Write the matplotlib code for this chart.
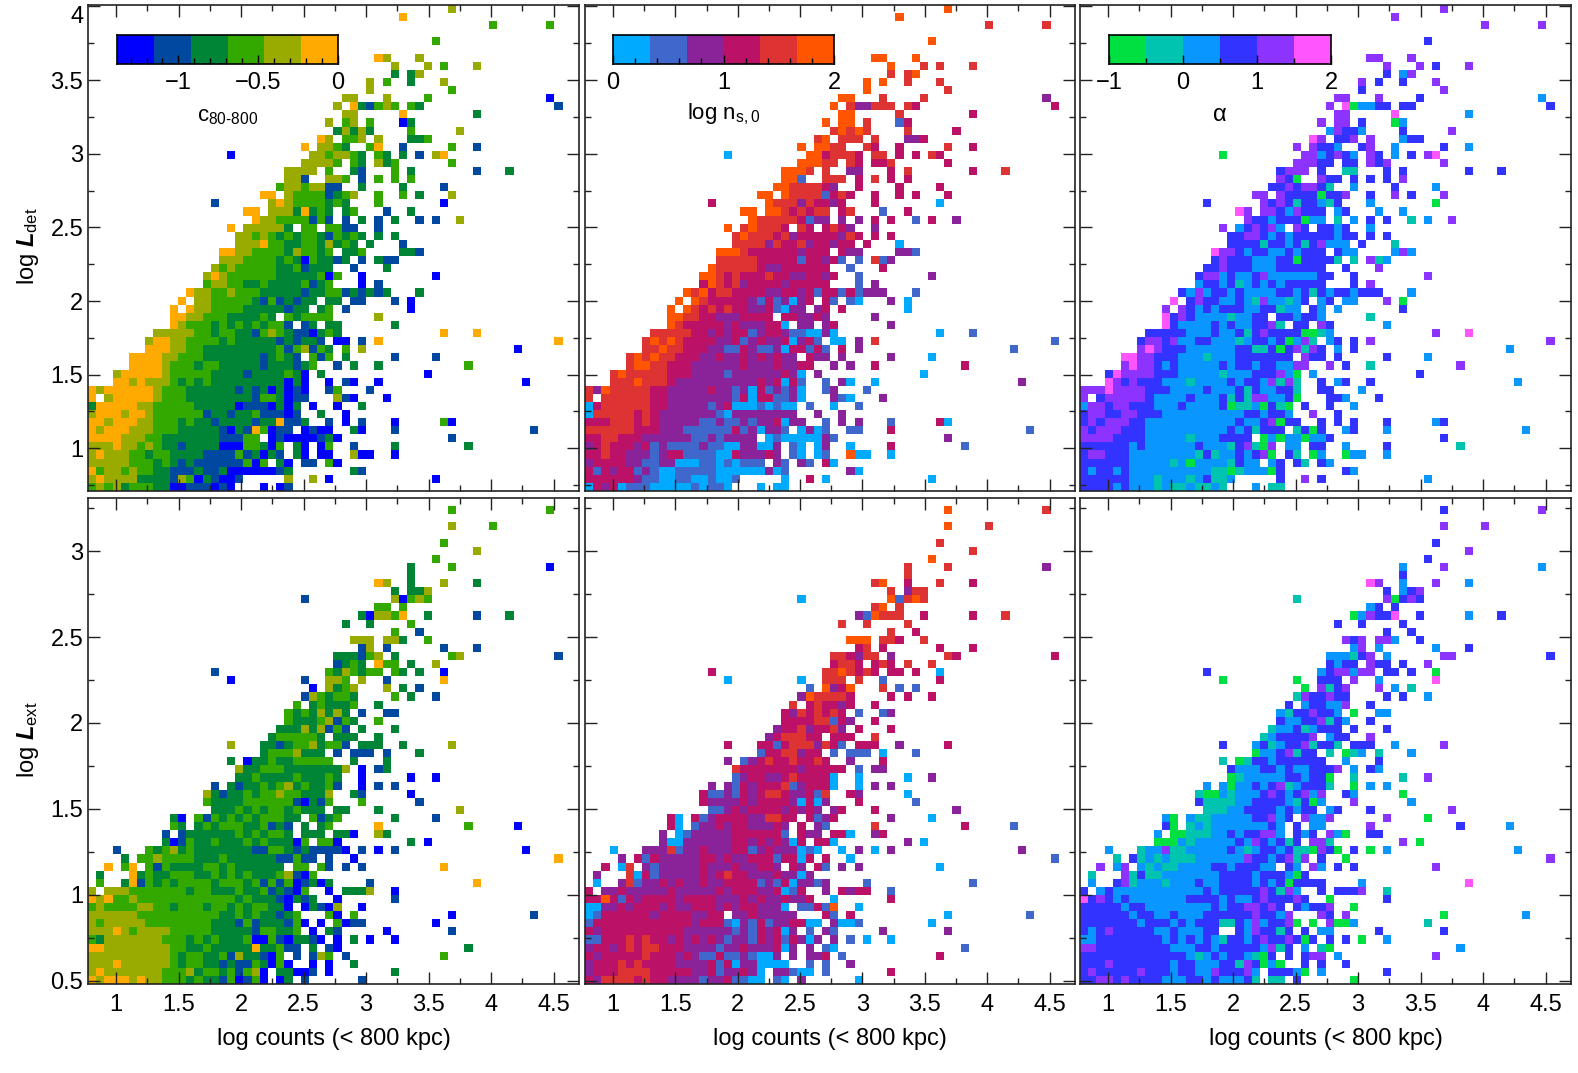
# Six binned maps of the detection likelihoods, each cell is a level 0-5 of the colour bar
import numpy as np
import matplotlib
matplotlib.use('Agg')
import matplotlib.pyplot as plt
from matplotlib.colors import ListedColormap

plt.rcParams['font.family'] = ['Liberation Sans', 'DejaVu Sans']
plt.rcParams['mathtext.fontset'] = 'custom'
plt.rcParams['mathtext.rm'] = 'Liberation Sans'
plt.rcParams['mathtext.it'] = 'Liberation Sans:italic'
plt.rcParams['mathtext.bf'] = 'Liberation Sans:bold'
plt.rcParams['mathtext.bfit'] = 'Liberation Sans:italic:bold'

# Cells per row, top row first, written as "first column:levels"
c_det = [
"44:4", "38:5", "49:3 56:3", "", "42:3", "", "35:54 40:4", "37:4 41:4 43:3 47:4", "37:2 39:24",
"34:4 36:3 39:2 43:4", "34:4 44:3", "31:44 36:4 41:3 56:0", "30:4 32:521343 39:32 57:1", "31:44 38:5 47:2",
"29:4 31:34 34:3 38:02", "30:24242 39:3 45:4", "28:54 31:334 35:4 39:223", "26:5 28:4432 34:35 38:1 44:3 47:1",
"17:0 27:4434432 35:32 38:2 40:1 42:45", "26:4444 30:3 32:32 35:423 44:3", "24:4444 29:3 32:21 37:3 39:2 47:1 51:2",
"24:441 29:443 33:1 35:3 37:3 39:3", "23:34434411 33:2 38:2 43:1", "21:55 24:433331234 35:3 38:3 40:2 44:4",
"15:1 22:4543333232 35:3 43:0", "19:55 22:44425232 31:23 36:1 39:2", "20:5443333131 31:1 33:2 35:1 37:2 40:1 42:1 45:4",
"17:5 19:44444 24:2 26:33 29:33 31:11 35:1", "18:4434323233213232 35:2 37:2", "18:444 21:5 22:33 24:22 26:33 28:2 29:4 30:2 31:32 34:2 38:1",
"16:55 18:44 20:3333 24:2 25:4 26:33 28:2 29:3 31:223 38:221",
"16:444 19:3333 23:2 24:3 25:2 26:0 27:3 28:2 29:2 30:1 31:2 33:1 35:2 36:11",
"15:4 16:3 17:4 18:33333 23:22 25:3 26:1 27:222 32:1 36:2",
"14:454 17:333333 23:222 26:22 28:3 29:0 30:3 33:0 42:0",
"14:3 15:44 17:33 19:22 21:3 22:2222 26:3 27:1 28:2 29:3 33:0 35:1",
"12:5 13:44 15:33 17:4 18:333 21:22222 26:1 27:22 29:33 31:12 33:1 34:212 40:2",
"11:5 13:44 15:33333 20:2 21:1 22:3 23:1 24:2 25:1 26:22 29:22 32:11 37:1 39:0",
"10:5 12:5 13:44 15:3333 19:22222 24:1 25:22 28:2 29:3 31:1 39:0",
"10:55 12:44 14:333 17:2222 21:3 22:2 24:3 25:2 26:3333 35:4",
"10:54 12:333 15:2 16:3 17:2 18:3 19:2 20:3 21:2 22:33 24:1 26:12 29:22 37:2",
"8:44444 13:33 15:2 16:33 18:22 20:1 21:3 22:4 23:3 24:2 25:110 28:2 29:32 43:5 47:5",
"7:4 8:55 10:44 12:3333 16:2 17:3 18:22222 23:1 24:2 25:1 26:22 28:1 30:00 33:1 35:5 57:5",
"7:555 10:44 12:33 14:222222222 23:3 24:1 25:3 26:4 27:1 28:3 29:2 31:3 33:4 52:0",
"5:5555 9:44 11:333 14:2222222 21:1 22:2 23:3 24:2 25:1 27:3 28:1 29:3 31:2 37:1 42:1",
"5:5555 9:4 10:333 13:2 14:33 16:22222 21:1 22:222 25:1 26:2 27:3 30:1 32:2 35:2 46:3",
"3:4 4:55555 9:4 10:33333 15:2222 19:1 20:2222 24:3 25:2 26:0 28:2 41:0",
"3:55 5:4 6:5 7:444 10:3 11:2 12:3 13:2 14:3 15:222222222 24:0 25:2 26:0 29:0 31:10 35:0 53:0",
"0:5 1:4 2:555555 8:4 9:333 12:222222 18:1 19:2 20:1 21:2 22:0 23:2 24:0 25:1 26:0 29:1 30:3 34:1",
"0:5 2:4 3:55555 8:4 9:333 12:22222222 20:1 21:33 23:2 24:0 25:11 30:4 31:1 32:0 36:0",
"0:2 1:55555 6:44 8:33333 13:22222 18:0 19:111 22:0 23:2 24:0 25:2 27:0 30:0 33:2",
"0:4 1:555 4:4 5:55 7:4 8:333333 14:1 15:22 17:1 18:22 20:3 21:111 24:0 25:1 28:2 31:0",
"0:55 2:4 3:555 6:44 8:333 11:2 12:3 13:22 15:1 16:2222 20:1 21:22 23:5 24:11 26:2 29:1 31:0 33:1 37:0 43:30",
"0:5 1:4 2:555 5:444 8:333 11:22222 16:1 17:0 18:2 19:1 20:5 21:3 22:0 23:11 26:0 27:1 28:0 29:0 32:20 37:1 54:1",
"0:5555 4:444 7:33 9:2222222 16:111 19:33 22:0 23:1 24:0000 28:1 29:20 44:1",
"0:444 3:5 4:44 6:3 7:4 8:3 9:22 11:1 12:2222 16:000 19:33 21:2 22:0 23:3 25:2 26:0 28:0 29:3 32:1 37:2 46:2",
"0:4 1:5 2:444 5:33 7:2 8:33 10:2222 14:1111 18:3 19:1 20:2 21:0 22:2 23:1 25:2 26:0 28:0 29:0 32:400 37:0",
"0:44444 5:333 8:2 9:3 10:2 11:1 12:2 13:11111 18:1 19:3 20:0 21:3 23:2 24:0 26:11 29:30",
"0:5 1:3 2:44 4:3 5:4 6:33 8:22 10:111 13:2 14:11 16:2 17:000000 23:1 24:2 32:21",
"0:4 1:5 2:4444 6:2222 10:1 11:4 12:3 13:0 14:2 15:1 16:00 18:1 24:4 27:4 29:0 42:0",
"0:3 1:4 2:3 3:4 4:2 5:333 8:22 10:00 12:111 15:0 16:1 17:0 21:0 23:0 24:1",
]

n_det = [
"44:5", "38:5", "49:4 56:4", "", "42:5", "", "35:55 40:5", "37:5 41:4 43:4 47:4", "37:4 39:45",
"34:5 36:5 39:4 43:4", "34:5 44:4", "31:55 36:4 41:4 56:2", "30:5 32:422444 39:43 57:3", "31:55 38:4 47:3",
"29:5 31:55 34:4 38:13", "30:45454 39:4 45:3", "28:45 31:444 35:4 39:223", "26:5 28:5544 34:43 38:3 44:4 47:3",
"17:0 27:5534443 35:44 38:3 40:3 42:43", "26:5554 30:4 32:43 35:334 44:3", "24:5554 29:4 32:22 37:3 39:4 47:3 51:4",
"24:551 29:444 33:3 35:4 37:3 39:3", "23:55 25:4444 29:32 33:3 38:3 43:3", "21:55 24:544441343 35:3 38:3 40:3 44:3",
"15:3 22:5444243323 35:3 43:0", "19:55 22:55 24:434344 31:34 36:1 39:3", "20:5444443122 31:2 33:2 35:3 37:3 40:1 42:3 45:2",
"17:5 19:45444 24:3 26:43 29:34 31:32 35:2", "18:4544434233333243 35:3 37:3", "18:4444 22:2 23:4 24:33 26:4 27:2 28:33 30:2 31:33 34:3 38:0",
"16:555 19:4 20:333333 26:2 27:33 29:3 31:322 38:221",
"16:4444 20:4 21:33333 26:1 27:33 29:2 30:3 31:1 33:1 35:4 36:12",
"15:5 16:44444 21:3 22:22 24:33 26:33 28:33 32:1 36:3",
"14:55 16:4 17:3 18:4 19:333 22:4 23:33 25:22 27:33 29:2 30:3 33:1 42:2",
"14:3 15:5 16:4 17:3 18:4 19:2 20:3333 24:2 25:33333 33:1 35:2",
"12:5 13:4 14:5 15:3 16:44 18:3333 22:22 24:33 26:2 27:3 28:1 29:33 31:13 33:1 34:222 40:1",
"11:5 13:5 14:4 15:33333 20:2 21:1 22:3 23:1 24:2 25:0 26:2 27:3 29:31 32:10 37:2 39:0",
"10:5 12:5 13:4 14:3 15:4 16:3 17:4 18:33 20:22 22:3 23:1 24:0 25:22 28:2 29:3 31:3 39:0",
"10:55 12:44 14:33 16:222 19:3333 24:33 26:22 28:3 29:2 35:2",
"10:54 12:333 15:33 17:2 18:3 19:222 22:33 24:0 26:22 29:23 37:2",
"8:44444 13:33 15:2 16:3 17:2 18:33 20:1 21:2 22:33 24:2 25:11 27:00 29:20 43:0 47:1",
"7:4 8:5 9:4 10:5 11:4 12:3333 16:22 18:3 19:1 20:2 21:3 22:22 24:3 25:0 26:2 27:3 28:1 30:00 33:2 35:4 57:1",
"7:44 9:5 10:44 12:333 15:22 17:11 19:3 20:2 21:11 23:2 24:0 25:33 27:1 28:3 29:1 31:3 33:2 52:1",
"5:4 6:5 7:4 8:5 9:44 11:333 14:22 16:3 17:22 19:3 20:2 21:3 22:2 23:3 24:22 27:3 28:2 29:2 31:2 37:2 42:0",
"5:4 6:55 8:44 10:333 13:222222 19:3 20:222 23:3 24:22 26:33 30:2 32:2 35:3 46:3",
"3:4 4:5 5:44444 10:333 13:2222 17:1 18:222222 24:3 25:2 26:0 28:2 41:0",
"3:444 6:5 7:444 10:3 11:2222222222 21:3 22:2 23:3 24:0 25:3 26:1 29:1 31:20 35:0 53:2",
"0:4 1:2 2:5 3:44444 8:33 10:22222 15:3 16:22 18:1 19:2 20:0 21:3 22:1 23:2 24:1 25:2 26:0 29:12 34:1",
"0:4 2:444444 8:33 10:22222222 18:1 19:3 20:0 21:33 23:11 25:2 26:0 30:2 31:1 32:0 36:2",
"0:03 2:444444 8:33 10:22222 15:1 16:2 17:3 18:000 21:1 22:0 23:1 24:00 27:1 30:0 33:1",
"0:0 1:44444 6:3 7:4 8:3 9:222222 15:2 16:1 17:0 18:22222222 28:2 31:2",
"0:333 3:444 6:3 7:4 8:3 9:22222 14:11 16:2 17:11 19:2 20:1 21:22 23:3 24:0 25:22 29:1 31:2 33:2 37:1 43:30",
"0:444444 6:333 9:222 12:111111 18:3 19:1 20:2 21:0 22:22 24:1 26:0 27:2 28:0 29:1 32:11 37:3 54:1",
"0:33 2:44 4:333 7:222222 13:11 15:2 16:1 17:2222 22:0 23:1 24:00000 29:2 30:1 44:2",
"0:2 1:3 2:4 3:333 6:2 7:3 8:1 9:2 10:1111 14:2 15:11 17:00 19:22 21:00 23:2 25:1 26:0 28:0 29:2 32:0 37:3 46:1",
"0:33 2:4 3:33 5:222 8:1 9:2 10:33 12:111 15:1 16:00 18:3 19:222 22:3 23:2 25:1 26:0 28:0 29:1 32:500 37:0",
"0:2 1:333 4:3 5:22 7:11 9:22 11:000 14:11 16:0 17:1 18:0 19:111 23:2 24:1 26:21 29:30",
"0:3 1:1 2:3 3:2 4:33 6:1 7:2 8:1 9:00 11:11111 16:000000 22:2 23:0 24:1 32:20",
"0:3333 4:33 6:2 7:11 9:00 11:11 13:00 15:1 16:00 18:1 24:0 27:3 29:0 42:0",
"0:0 1:3 2:2 3:3 4:0 5:111 8:000 11:00 13:1 14:0 15:11 17:0 21:0 23:00",
]

a_det = [
"44:4", "38:4", "49:4 56:4", "", "42:3", "", "35:44 40:4", "37:4 41:4 43:3 47:4", "37:3 39:24",
"34:4 36:3 39:3 43:4", "34:3 44:4", "31:44 36:4 41:3 56:2", "30:4 32:502233 39:33 57:3", "31:44 38:5 47:2",
"29:4 31:44 34:3 38:02", "30:24332 39:3 45:4", "28:54 31:334 35:4 39:233", "26:4 28:4332 34:34 38:2 44:3 47:2",
"17:0 27:4423432 35:43 38:2 40:3 42:45", "26:44433 32:33 35:434 44:4", "24:3444 29:3 32:11 37:3 39:3 47:3 51:3",
"24:430 29:433 33:3 35:3 37:3 39:4", "23:33434431 33:2 38:3 43:2", "21:44 24:433330334 35:3 38:4 40:3 44:4",
"15:3 22:4343133213 35:2 43:0", "19:54 22:44324333 31:23 36:2 39:2", "20:4332333022 31:1 33:2 35:3 37:3 40:1 42:2 45:4",
"17:4 19:234342 26:43 29:33 31:23 35:2", "18:3344323233333233 35:3 37:3", "18:3333 22:1 23:33 25:2 26:3 27:1 28:3 29:4 30:222 34:3 38:1",
"16:544 19:3 20:2 21:33 23:22 25:3 26:2 27:33 29:3 31:322 38:242",
"16:3 17:4 18:3333 21:222 24:33 26:0 27:33 29:3 30:3 31:1 33:1 35:4 36:12",
"15:33 17:4 18:333 21:222 24:33 26:33 28:33 32:3 36:4",
"14:3 15:44 17:2 18:3 19:22 21:3 22:4 23:22222 28:2 29:3 30:3 33:3 42:4",
"14:2 15:33 17:2 18:3 19:1 20:2 21:3 22:2 23:3 24:2 25:33333 33:3 35:4",
"12:3 13:2 14:4 15:2 16:33 18:2 19:3 20:2222 24:33 26:2 27:3 28:1 29:3 30:2 31:33 33:2 34:333 40:2",
"11:5 13:3 14:4 15:33 17:22 19:3 20:2 21:1 22:4 23:22 25:1 26:2 27:3 29:23 32:22 37:4 39:0",
"10:4 12:4 13:3 14:2 15:3 16:2 17:333 20:22 22:33 24:1 25:22 28:3 29:2 31:2 39:3",
"10:53 12:4 13:3 14:2222 18:1 19:22 21:33 24:33 26:2 27:33 29:2 35:1",
"10:53 12:2222 16:3 17:2 18:3 19:22 21:33 23:4 24:1 26:33 29:43 37:2",
"8:33333 13:22 15:2 16:3 17:22 19:3 20:1 21:3 22:4 23:33 25:33 27:00 29:12 43:4 47:5",
"7:3 8:44 10:3 11:4 12:22 14:33 16:222 19:1 20:2 21:33 23:2 24:3 25:0 26:2 27:4 28:1 30:23 33:3 35:4 57:4",
"7:454 10:333 13:222222 19:33 21:11 23:3 24:0 25:3 26:4 27:1 28:4 29:3 31:2 33:3 52:2",
"5:55 7:44 9:333 12:222 15:1 16:222 19:3333 23:33 25:3 27:4 28:3 29:3 31:3 37:3 42:2",
"5:45 7:44 9:3 10:2 11:3 12:22222 17:3 18:2 19:33 21:2 22:33 24:22 26:44 30:4 32:3 35:1 46:4",
"3:3 4:5 5:4444 9:333 12:22222 17:1 18:222 21:333 24:4 25:2 26:0 28:2 41:3",
"3:54 5:3 6:4 7:333 10:222 13:1 14:2222 18:3 19:2 20:33 22:2 23:4 24:1 25:4 26:1 29:3 31:23 35:3 53:2",
"0:444 3:5 4:4444 8:333 11:2222 15:3 16:222 19:3 20:1 21:3 22:22 24:33 26:1 29:33 34:2",
"0:4 2:3 3:44444 8:3 9:2222 13:3 14:222 17:3 18:1 19:3 20:1 21:44 23:22 25:3 26:0 30:3 31:3 32:2 36:3",
"0:2 1:44 3:3 4:44 6:333 9:222 12:3 13:2222 17:3 18:0 19:11 21:2 22:0 23:3 24:1 25:0 27:3 30:3 33:2",
"0:3 1:44 3:33 5:44 7:333 10:2222222222 20:33 22:2 23:33 25:2 28:4 31:3",
"0:3 1:4 2:3 3:444 6:33 8:22222222222 19:3 20:22 22:3 23:4 24:0 25:33 29:3 31:3 33:3 37:3 43:23",
"0:4 1:3 2:444 5:333 8:2222222222 18:3 19:2 20:3 21:1 22:33 24:3 26:1 27:3 28:0 29:3 32:23 37:2 54:2",
"0:4444 4:3333 8:22222 13:1 14:222 17:3333 22:0 23:2 24:0 25:22 27:0 28:2 29:23 44:3",
"0:333333 6:2 7:3 8:222222 14:3 15:222 18:1 19:3 20:4 21:1 22:0 23:4 25:22 28:3 29:3 32:2 37:3 46:1",
"0:3 1:44 3:333 6:22222222 14:1 15:3 16:1 17:22 19:3 20:2 21:3 22:4 23:0 25:3 26:1 28:0 29:2 32:022 37:2",
"0:333333 6:22222 11:1 12:2 13:0 14:2222 18:1 19:3 20:22 23:2 24:3 26:31 29:32",
"0:3 1:2 2:33 4:2 5:3 6:2222222222 16:11 18:0 19:1 20:222 23:0 24:3 32:32",
"0:333333 6:222 9:1 10:222 13:1 14:2 15:3 16:11 18:2 24:3 27:4 29:3 42:2",
"0:3333 4:2 5:3 6:222 9:1 10:2 11:11 13:2 14:11 16:2 17:1 21:2 23:11",
]

c_ext = [
"", "44:3 56:3", "", "44:4 49:3", "", "43:3", "47:4", "42:3", "39:2 44:3 56:0", "39:2",
"35:54 39:2 43:4 47:2", "37:2 39:224", "26:1 37:40343", "35:33 38:3", "33:204435 41:2 47:1 51:2",
"31:2 34:2 39:3", "37:3 40:1", "32:444 36:442 41:3", "33:14 36:1 43:1 47:1", "30:222134 37:2 44:34 57:1",
"30:1232 35:533 39:2 42:4", "15:1 29:3243233 37:32 40:2 43:0", "17:0 26:1 29:443 33:4 36:1 43:5",
"27:0 29:4234 36:4 38:2 40:1", "26:1432332 37:3 39:2 42:1", "25:3 27:232223 35:2", "24:32324242 33:1 36:11",
"24:322234132 35:3", "23:222424131 33:2 37:2", "22:2333332 30:222 35:2",
"17:4 21:22123342331 33:222 38:2 44:4", "21:23334222 30:1 32:111 36:1 40:2", "17:2 19:02232233333 32:2 36:2",
"18:42233322222224 33:0 35:12", "18:2232222322232 33:0 39:0 42:0", "15:1 17:21223234232231 33:0 35:1 37:1",
"14:4212232334332224 32:21 39:0", "14:3222233333310213 33:3 40:1", "15:22232323323222 30:22 35:2 45:4",
"10:20 13:3132323233322 27:3123 37:2 42:1", "10:32 13:232333223121 26:2 28:23 35:5 46:3 52:0",
"9:1 11:12222223232332 26:222 30:220 35:42", "9:201322322232322203 28:330 39:2 41:0",
"3:1 7:3234232222222113321211110 33:1 35:0 37:1 53:0", "4:2 6:3343333222322222211311 29:1 32:0 57:5",
"2:5 4:35 7:31322223323222222 25:33 28:31 31:1 33:1 43:5", "1:2 5:52322333223232322234103",
"1:3 4:25132323333233323131301202 34:1 47:5", "0:4 2:4443333333233222322312103 29:0 31:2224 37:0",
"0:5453343333333333332322210212 30:0 37:1", "0:3433334433233323323233220 26:02104 33:0",
"0:44444433333333332232322123 29:30 32:3 44:0 54:1", "0:434444433333333222131222130 28:0 30:3011 42:0",
"0:44454344443333322222133223 27:0 29:21 36:0 44:1", "0:32444444433323232223003102210 30:0 32:2 34:0 37:0",
"0:55444444443322322222522311 27:2 29:10 46:2", "0:444444444432332231422103 25:1 27:143 31:1 43:3",
"0:4445444444323322121132030 27:0 29:0 32:2", "0:4544444443334233231340 23:22001 29:0 37:2",
"0:5455545443332322130130 23:02 26:1 33:1",
]

n_ext = [
"", "44:5 56:4", "", "44:5 49:4", "", "43:4", "47:4", "42:5", "39:4 44:4 56:2", "39:4",
"35:45 39:3 43:4 47:3", "37:4 39:244", "26:0 37:51454", "35:45 38:4", "33:215444 41:3 47:3 51:4",
"31:4 34:4 39:4", "37:4 40:3", "32:555 36:443 41:4", "33:34 36:3 43:3 47:3", "30:443244 37:2 44:43 57:3",
"30:3443 35:343 39:4 42:4", "15:3 29:4454343 37:33 40:3 43:0", "17:0 26:0 29:444 33:4 36:1 43:3",
"27:1 29:5235 36:4 38:1 40:1", "26:2544443 37:3 39:3 42:3", "25:4 27:343323 35:3", "24:32434343 33:1 36:12",
"24:333344132 35:3", "23:233423342 33:3 37:3", "22:2344433 30:333 35:4",
"17:3 21:33134442431 33:333 38:2 44:3", "21:13344233 30:1 32:111 36:0 40:1", "17:2 19:12343343343 32:2 36:3",
"18:43333333233333 33:1 35:22", "18:1233223433330 33:0 39:0 42:2", "15:2 17:21323334123330 33:0 35:2 37:2",
"14:3112132344322314 32:32 39:0", "14:3222232333320302 33:3 40:1", "15:11232333323232 30:23 35:3 45:2",
"10:30 13:3123333224433 27:3123 37:2 42:0", "10:30 13:122323322232 26:3 28:21 35:4 46:3 52:1",
"9:2 11:01222223333331 26:322 30:330 35:23", "9:200222222332323203 28:330 39:2 41:0",
"3:0 7:2224122322233123222010 31:0 33:2 35:0 37:2 53:2", "4:2 6:3132222233232233313303 29:3 32:0 57:1",
"2:3 4:04 7:21222223222322332 25:32 28:31 31:2 33:2 43:0", "1:2 5:40312222232343322232202",
"1:0 4:24122323223223333121302212 34:1 47:1", "0:3 2:2232222232222232333223013 29:2 31:3233 37:1",
"0:3353132333323333222323223 25:223 30:0 37:3", "0:0022323332322333232332220 26:11315 33:0",
"0:01333333233332233 18:2 19:23 21:22222 29:31 32:3 44:0 54:1", "0:1333333333333233310213122330 28:0 30:2001 42:0",
"0:32333333333322222212132302 27:1 29:21 36:2 44:2", "0:11333434332323232122132313202 30:2 32:1 34:0 37:0",
"0:23323434433322221223222302 27:2 29:10 46:1", "0:323333343332321131121002 25:2 27:223 31:1 43:3",
"0:2333434333322223130220000 27:1 29:1 32:2", "0:2333444433333223122320 23:22100 29:1 37:3",
"0:3244443433222212231100 23:10 26:2 33:0",
]

a_ext = [
"", "44:3 56:4", "", "44:4 49:4", "", "43:3", "47:4", "42:3", "39:2 44:4 56:2", "39:3",
"35:54 39:2 43:4 47:2", "37:3 39:234", "26:1 37:40343", "35:23 38:3", "33:024335 41:3 47:2 51:3",
"31:3 34:3 39:3", "37:3 40:3", "32:434 36:442 41:3", "33:24 36:2 43:2 47:3", "30:222134 37:2 44:44 57:3",
"30:3233 35:433 39:3 42:4", "15:3 29:2344244 37:33 40:3 43:0", "17:0 26:0 29:333 33:4 36:2 43:5",
"27:0 29:4134 36:4 38:2 40:1", "26:1433433 37:3 39:3 42:2", "25:3 27:233224 35:3", "24:21334332 33:0 36:22",
"24:322334132 35:3", "23:122312333 33:3 37:3", "22:1233334 30:233 35:4",
"17:3 21:23123341331 33:333 38:2 44:4", "21:02234133 30:1 32:012 36:1 40:2", "17:1 19:01332333333 32:2 36:3",
"18:32223323223334 33:2 35:32", "18:0122222332330 33:1 39:1 42:4", "15:2 17:20223234123331 33:0 35:2 37:2",
"14:1002122234323424 32:32 39:0", "14:3111122333321302 33:4 40:2", "15:11122333323233 30:23 35:3 45:4",
"10:20 13:2112222233423 27:4224 37:4 42:0", "10:30 13:121222222232 26:3 28:22 35:4 46:3 52:2",
"9:2 11:00111223233442 26:323 30:420 35:33", "9:000212222232432313 28:441 39:4 41:0",
"3:2 7:1224112222232123323110 28:0 29:43 31:0 33:3 35:0 37:2 53:2", "4:1 6:3121211122222243323414 29:3 32:0 57:4",
"2:4 4:24 7:21211222233233322 25:32 28:42 31:3 33:3 43:4", "1:1 5:41311222222233332333203",
"1:2 4:34122212223223333232303333 34:2 47:5", "0:3 2:2322222222222323333343142 29:3 31:3334 37:1",
"0:5343232222222333323223433 25:343 30:0 37:3", "0:3333323322222222 16:3 17:2 18:33 20:44 22:3 23:43 26:32334 33:0",
"0:3333332332232223 16:33 18:33 20:33 21:4 22:33 24:24 29:43 32:4 44:0 54:2", "0:3333333233323233 16:3 17:11 19:3 20:2 21:4 22:2 23:33 25:4 26:0 28:0 30:4002 42:1",
"0:32343333322322233 19:3 20:2 21:4 22:33 24:13 27:3 29:22 36:3 44:3", "0:2233333333232323 16:2 17:1 18:33 20:2 21:3 22:4 23:33 25:43 27:03 30:3 32:3 34:0 37:2",
"0:4433333333322233 16:2 17:33333 22:2 23:4 24:1 25:3 27:2 29:10 46:2", "0:3333333333333 13:2 14:1 15:2 16:3 17:2 18:33 20:2 21:1 22:0 23:3 25:3 27:344 31:2 43:4",
"0:3334333333323322 16:2 17:33 19:1 20:4 21:3 22:0 23:2 24:0 27:3 29:3 32:3", "0:3433333433323 13:3 14:22 16:4 17:333 20:42 23:33 25:3 26:20 29:2 37:3",
"0:3344343333222332 16:3 17:22 19:2 20:3 21:1 23:11 26:3 33:0",
]

# Level colours of the three colour bars
c_colors = ['#0000ff', '#0048a0', '#008537', '#33a900', '#9aab00', '#ffaa00']
n_colors = ['#00aaff', '#4068cc', '#8a2299', '#bb1166', '#dd3333', '#ff5500']
a_colors = ['#00e040', '#00c4b0', '#0a96ff', '#3333ff', '#8c33ff', '#ff55ff']

x_ticks = [1, 1.5, 2, 2.5, 3, 3.5, 4, 4.5]
y_ticks_det = [1, 1.5, 2, 2.5, 3, 3.5, 4]
y_ticks_ext = [0.5, 1, 1.5, 2, 2.5, 3]

W, H = 1578, 1073


def read_rows(rows):
    grid = np.full((60, 60), np.nan)
    for r, row in enumerate(rows[:60]):
        for seg in row.split():
            start, vals = seg.split(':')
            for k, v in enumerate(vals):
                col = int(start) + k
                if col < 60:
                    grid[r, col] = int(v)
    return np.ma.masked_invalid(grid)


def px_axes(left, top, right, bottom):
    return fig.add_axes([left / W, 1 - bottom / H, (right - left) / W, (bottom - top) / H])


def draw_panel(box, rows, colors, ylim, yticks, xlabels, ylabels):
    ax = px_axes(*box)
    xlim = (0.776, 4.704)
    xe = np.linspace(xlim[0], xlim[1], 61)
    ye = np.linspace(ylim[1], ylim[0], 61)
    ax.pcolormesh(xe, ye, read_rows(rows), cmap=ListedColormap(colors), vmin=-0.5, vmax=5.5,
                  antialiased=False, linewidth=0)
    ax.set_xlim(xlim)
    ax.set_ylim(ylim)
    ax.set_xticks(x_ticks)
    ax.set_xticks(np.arange(1.25, 4.75, 0.5), minor=True)
    ax.set_yticks(yticks)
    minors = np.arange(yticks[0] - 0.25, yticks[-1] + 0.3, 0.5)
    ax.set_yticks(minors[(minors > ylim[0]) & (minors < ylim[1])], minor=True)
    ax.tick_params(which='both', direction='in', top=True, right=True, color='#222222', width=1.0)
    ax.tick_params(which='major', length=8.6)
    ax.tick_params(which='minor', length=4.3)
    ax.tick_params(axis='x', which='major', pad=7.5, labelsize=17, labelbottom=xlabels)
    ax.tick_params(axis='y', which='major', pad=3.5, labelsize=17, labelleft=ylabels)
    if xlabels:
        ax.set_xticklabels(['%g' % t for t in x_ticks])
        ax.set_xlabel('log counts (< 800 kpc)', fontsize=17, labelpad=8)
    if ylabels:
        ax.set_yticklabels(['%g' % t for t in yticks])
        # the label at the very top of the frame sits below its tick
        if yticks[-1] == 4:
            ax.get_yticklabels()[-1].set_verticalalignment('top')
    for s in ax.spines.values():
        s.set_linewidth(1.2)
        s.set_color('#222222')
    return ax


def draw_bar(box, colors, vmin, vmax, ticks, labels, minor):
    ax = px_axes(*box)
    edges = np.linspace(vmin, vmax, len(colors) + 1)
    ax.pcolormesh(edges, [0, 1], [np.arange(len(colors))], cmap=ListedColormap(colors),
                  vmin=-0.5, vmax=5.5, antialiased=False, linewidth=0)
    ax.set_xlim(vmin, vmax)
    ax.set_yticks([])
    ax.set_xticks(ticks)
    ax.set_xticklabels(labels)
    ax.set_xticks(minor, minor=True)
    ax.tick_params(which='both', direction='in', width=1.0, color='black')
    ax.tick_params(which='major', length=6.5, pad=5.5, labelsize=17)
    ax.tick_params(which='minor', length=4.5)
    for s in ax.spines.values():
        s.set_linewidth(1.2)
    ax.set_zorder(5)


fig = plt.figure(figsize=(W / 100, H / 100), dpi=100)

top = (5, 491)
low = (498, 984)
cols = [(88, 579), (585, 1075), (1080, 1571)]
ylim_det = (0.71, 4.01)
ylim_ext = (0.48, 3.31)

draw_panel((cols[0][0], top[0], cols[0][1], top[1]), c_det, c_colors, ylim_det, y_ticks_det, False, True)
draw_panel((cols[1][0], top[0], cols[1][1], top[1]), n_det, n_colors, ylim_det, y_ticks_det, False, False)
draw_panel((cols[2][0], top[0], cols[2][1], top[1]), a_det, a_colors, ylim_det, y_ticks_det, False, False)
draw_panel((cols[0][0], low[0], cols[0][1], low[1]), c_ext, c_colors, ylim_ext, y_ticks_ext, True, True)
draw_panel((cols[1][0], low[0], cols[1][1], low[1]), n_ext, n_colors, ylim_ext, y_ticks_ext, True, False)
draw_panel((cols[2][0], low[0], cols[2][1], low[1]), a_ext, a_colors, ylim_ext, y_ticks_ext, True, False)

# Colour bars inside the top row
draw_bar((117, 35, 338, 64), c_colors, -1.385, 0, [-1, -0.5, 0], ['\u22121', '\u22120.5', '0'],
         np.arange(-1.3, 0, 0.1))
draw_bar((613, 35, 834, 64), n_colors, 0, 2, [0, 1, 2], ['0', '1', '2'], np.arange(0.2, 2, 0.2))
draw_bar((1109, 35, 1331, 64), a_colors, -1, 2, [-1, 0, 1, 2], ['\u22121', '0', '1', '2'],
         np.arange(-0.5, 2, 1))

fig.text(228 / W, 1 - 117 / H, r'c$_{\mathrm{80\text{-}800}}$', fontsize=16, ha='center', va='center')
fig.text(724 / W, 1 - 114 / H, r'log n$_{\mathrm{s,0}}$', fontsize=16, ha='center', va='center')
fig.text(1220 / W, 1 - 115 / H, '\u03b1', fontsize=17, ha='center', va='center')

fig.text(28 / W, 1 - 246 / H, r'log $\mathbfit{L}_{\mathrm{det}}$', fontsize=17, rotation=90, ha='center', va='center')
fig.text(28 / W, 1 - 740 / H, r'log $\mathbfit{L}_{\mathrm{ext}}$', fontsize=17, rotation=90, ha='center', va='center')

fig.savefig('out.png', dpi=100, facecolor='white')
